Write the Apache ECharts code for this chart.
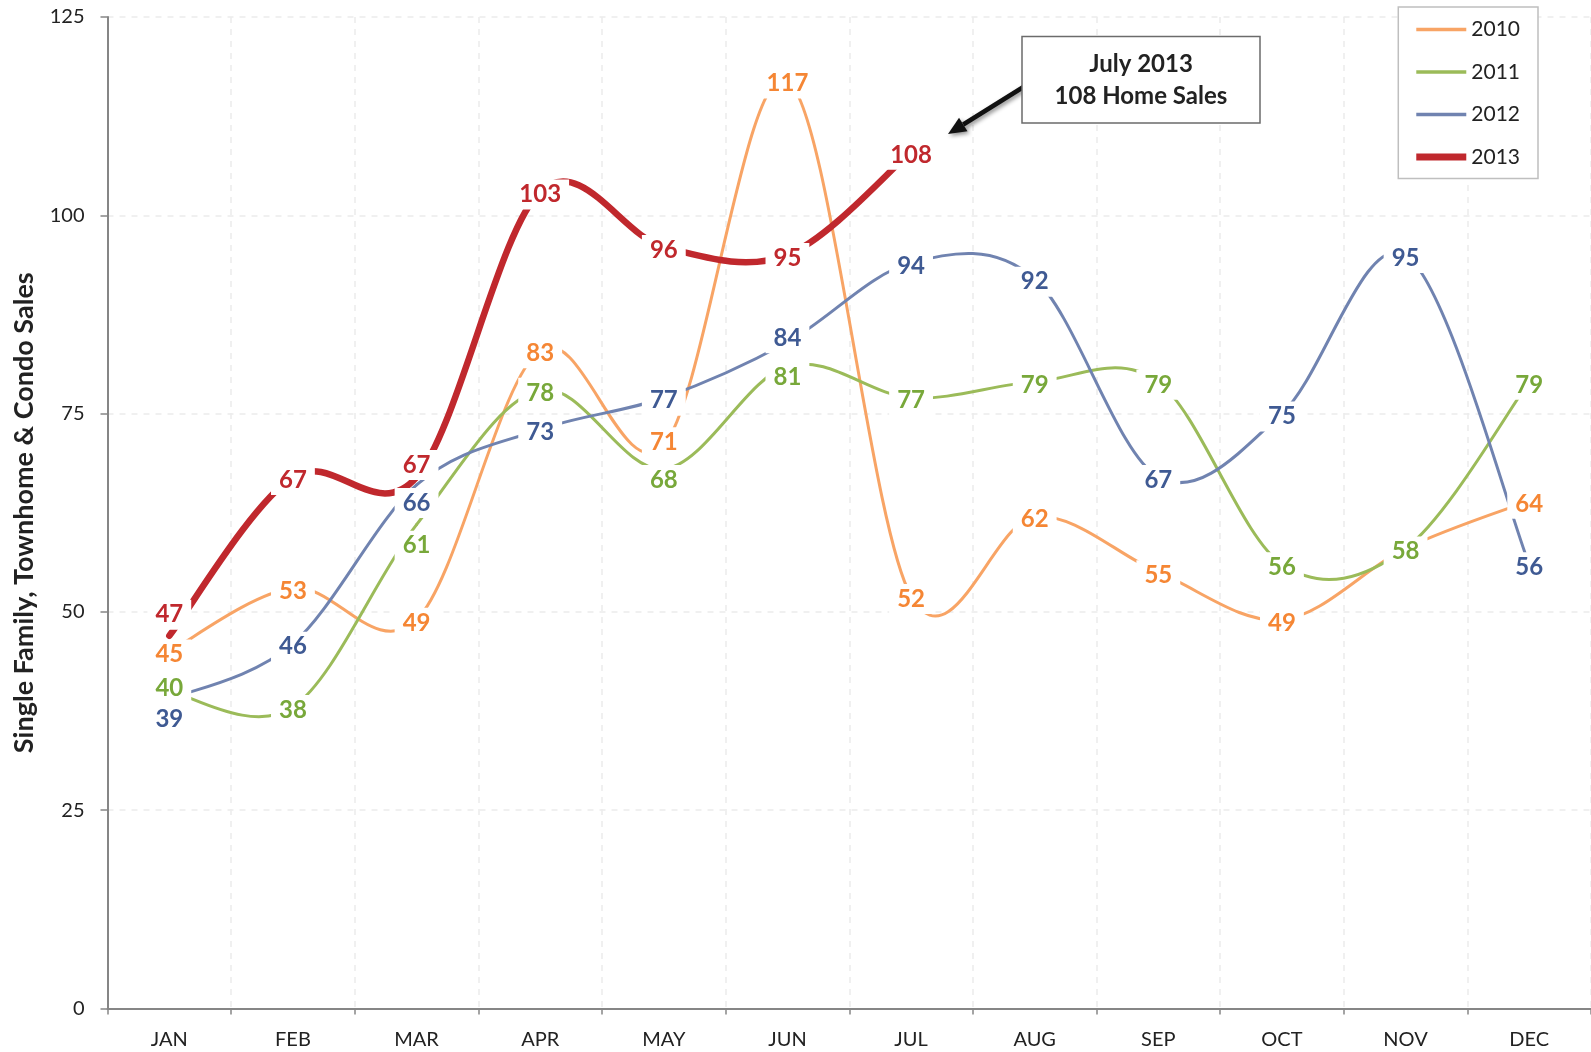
<!DOCTYPE html>
<html>
<head>
<meta charset="utf-8">
<script src="https://cdn.jsdelivr.net/npm/echarts@6/dist/echarts.min.js"></script>
<style>
  html, body { margin: 0; padding: 0; background: #fff; }
  #chart { width: 1591px; height: 1052px; }
</style>
</head>
<body>
<div id="chart"></div>
<script>
const months = ['JAN', 'FEB', 'MAR', 'APR', 'MAY', 'JUN', 'JUL', 'AUG', 'SEP', 'OCT', 'NOV', 'DEC'];
const sales2010 = [45, 53, 49, 83, 71, 117, 52, 62, 55, 49, 58, 64];
const sales2011 = [40, 38, 61, 78, 68, 81, 77, 79, 79, 56, 58, 79];
const sales2012 = [39, 46, 66, 73, 77, 84, 94, 92, 67, 75, 95, 56];
const sales2013 = [47, 67, 67, 103, 96, 95, 108];
const yMin = 0, yMax = 125, yStep = 25;
const callout = ['July 2013', '108 Home Sales'];

const FONT = 'Lato, "Open Sans", sans-serif';

// series look: line colour, label colour, width
const SERIES = [
  { name: '2010', data: sales2010, line: '#f8a465', text: '#f58634', width: 3 },
  { name: '2011', data: sales2011, line: '#9bbb59', text: '#78a83a', width: 3 },
  { name: '2012', data: sales2012, line: '#7083b0', text: '#3f5a93', width: 3 },
  { name: '2013', data: sales2013, line: '#c0282d', text: '#c0282d', width: 6.5 },
];

// manual label nudges (px) where labels would collide, null = hidden
const LABEL_DY = 3;
const NUDGE = {
  '2010': { 4: -6, 10: null },
  '2011': { 0: -6, 2: 18, 4: 8, 5: 8 },
  '2012': { 0: 17, 2: 15, 5: -7 },
  '2013': { 0: -24, 2: -15 },
};

const chart = echarts.init(document.getElementById('chart'), null, { renderer: 'canvas' });

// Excel-style smoothed curve (Catmull-Rom bezier), drawn from axis coords
const curveSeries = SERIES.map((s) => ({
  name: s.name,
  type: 'custom',
  z: 1,
  silent: true,
  clip: false,
  itemStyle: { color: s.line },
  encode: { x: 0, y: 1 },
  data: s.data.map((v, i) => [i, v]),
  renderItem: (params, api) => {
    if (params.dataIndex !== 0) return null;
    const pts = s.data.map((v, i) => api.coord([i, v]));
    const n = pts.length;
    const children = [];
    for (let i = 0; i < n - 1; i++) {
      const p0 = pts[Math.max(i - 1, 0)], p1 = pts[i], p2 = pts[i + 1], p3 = pts[Math.min(i + 2, n - 1)];
      children.push({
        type: 'bezierCurve',
        shape: {
          x1: p1[0], y1: p1[1],
          cpx1: p1[0] + (p2[0] - p0[0]) / 6, cpy1: p1[1] + (p2[1] - p0[1]) / 6,
          cpx2: p2[0] - (p3[0] - p1[0]) / 6, cpy2: p2[1] - (p3[1] - p1[1]) / 6,
          x2: p2[0], y2: p2[1],
        },
        style: { fill: null, stroke: s.line, lineWidth: s.width, lineCap: 'round' },
      });
    }
    return { type: 'group', children };
  },
}));

// value labels with white boxes, sitting over the curves
const labelSeries = SERIES.map((s) => ({
  name: 'lbl' + s.name,
  type: 'line',
  z: 3,
  silent: true,
  symbol: 'circle',
  symbolSize: 1,
  itemStyle: { color: s.line },
  lineStyle: { opacity: 0 },
  label: {
    show: true,
    position: 'inside',
    offset: [0, LABEL_DY],
    color: s.text,
    fontFamily: FONT,
    fontWeight: 'bold',
    fontSize: 24,
    backgroundColor: '#fff',
    padding: [3, 8],
  },
  emphasis: { disabled: true },
  data: s.data.map((v, i) => {
    const n = NUDGE[s.name][i];
    if (n === null) return { value: v, label: { show: false } };
    if (n !== undefined) return { value: v, label: { offset: [0, n + LABEL_DY] } };
    return v;
  }),
}));

// arrow from the callout box to the July 2013 point
const tip = [948, 134], tail = [1025, 86];
const dx = tip[0] - tail[0], dy = tip[1] - tail[1];
const len = Math.hypot(dx, dy), ux = dx / len, uy = dy / len;
const headLen = 18, headW = 8;
const base = [tip[0] - ux * headLen, tip[1] - uy * headLen];
const shadow = { shadowBlur: 4, shadowColor: 'rgba(0,0,0,0.45)', shadowOffsetX: 2, shadowOffsetY: 2 };

chart.setOption({
  animation: false,
  backgroundColor: '#fff',
  grid: { left: 107.5, right: 0, top: 17, bottom: 43.5, containLabel: false, outerBoundsMode: 'none' },
  legend: {
    orient: 'vertical',
    right: 53,
    top: 7,
    data: SERIES.map((s) => ({
      name: s.name,
      icon: 'path://M0,0H50V' + (s.width > 4 ? 7 : 3.5) + 'H0Z',
      itemStyle: { color: s.line },
    })),
    itemWidth: 50,
    itemHeight: 14,
    itemGap: 21.5,
    padding: [12, 18, 11, 18],
    borderColor: '#bfbfbf',
    borderWidth: 1.5,
    backgroundColor: '#fff',
    selectedMode: false,
    textStyle: { color: '#222', fontFamily: FONT, fontSize: 21 },
  },
  xAxis: {
    type: 'category',
    data: months,
    boundaryGap: true,
    axisLine: { lineStyle: { color: '#868686', width: 2 } },
    axisTick: { show: true, length: 6, lineStyle: { color: '#868686', width: 1.5 } },
    axisLabel: { color: '#222', fontFamily: FONT, fontSize: 20, margin: 21 },
    splitLine: { show: true, lineStyle: { color: '#ececec', type: [6, 6], width: 1.5 } },
  },
  yAxis: {
    type: 'value',
    min: yMin,
    max: yMax,
    interval: yStep,
    name: 'Single Family, Townhome & Condo Sales',
    nameLocation: 'middle',
    nameRotate: 90,
    nameGap: 70,
    nameTextStyle: { color: '#222', fontFamily: FONT, fontWeight: 'bold', fontSize: 27 },
    axisLine: { show: true, lineStyle: { color: '#868686', width: 2 } },
    axisTick: { show: true, length: 7, lineStyle: { color: '#868686', width: 1.5 } },
    axisLabel: { color: '#222', fontFamily: FONT, fontSize: 20, margin: 23 },
    splitLine: { show: true, lineStyle: { color: '#ececec', type: [6, 6], width: 1.5 } },
  },
  graphic: [
    {
      type: 'line',
      shape: { x1: tail[0], y1: tail[1], x2: base[0], y2: base[1] },
      style: { stroke: '#111', lineWidth: 4.5, ...shadow },
      z: 10,
    },
    {
      type: 'polygon',
      shape: {
        points: [
          tip,
          [base[0] + uy * headW, base[1] - ux * headW],
          [base[0] - uy * headW, base[1] + ux * headW],
        ],
      },
      style: { fill: '#111', ...shadow },
      z: 10,
    },
    {
      type: 'rect',
      shape: { x: 1022, y: 36.5, width: 238, height: 86.5 },
      style: { fill: '#fff', stroke: '#6b6b6b', lineWidth: 1.5 },
      z: 11,
    },
    {
      type: 'text',
      x: 1141, y: 64,
      style: { text: callout[0], fill: '#222', font: 'bold 24px ' + FONT, align: 'center', verticalAlign: 'middle' },
      z: 12,
    },
    {
      type: 'text',
      x: 1141, y: 96.5,
      style: { text: callout[1], fill: '#222', font: 'bold 24px ' + FONT, align: 'center', verticalAlign: 'middle' },
      z: 12,
    },
  ],
  series: [...curveSeries, ...labelSeries],
});
</script>
</body>
</html>
